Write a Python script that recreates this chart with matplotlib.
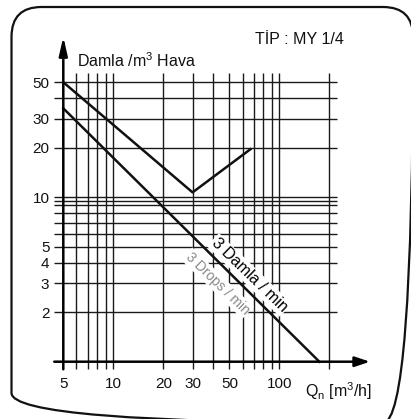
import matplotlib
matplotlib.use("Agg")
import matplotlib.pyplot as plt
from matplotlib.patches import FancyBboxPatch
from matplotlib.ticker import NullLocator, FixedLocator, FixedFormatter

plt.rcParams['font.family'] = ['Liberation Sans', 'DejaVu Sans']
plt.rcParams['mathtext.fontset'] = 'custom'
plt.rcParams['mathtext.rm'] = 'Liberation Sans'
plt.rcParams['mathtext.it'] = 'Liberation Sans:italic'

# data
# upper curve (Damla / m3 Hava)
q_upper = [5, 30, 67]
d_upper = [50, 10.7, 19.6]
# lower line (3 Damla / min)
q_lower = [5, 174]
d_lower = [34.7, 1]

# grid
x_grid = [5, 6, 7, 8, 9, 10, 20, 30, 40, 50, 60, 70, 80, 90, 100, 200]
y_grid = [50, 40, 30, 20, 10, 9.5, 9, 8, 7, 6, 5, 4, 3, 2]
x_ticks = [5, 10, 20, 30, 50, 100]
y_ticks = [2, 3, 4, 5, 10, 20, 30, 50]

fig = plt.figure(figsize=(4.11, 4.19), dpi=100)

# rounded frame, in pixel units
ax0 = fig.add_axes([0, 0, 1, 1], zorder=-1)
ax0.set_xlim(0, 411)
ax0.set_ylim(419, 0)
ax0.axis('off')
ax0.add_patch(FancyBboxPatch((11.5, 7), 401.5, 416,
                             boxstyle="round,pad=0,rounding_size=30",
                             fill=False, lw=1.6, ec='#111111', clip_on=False))

ax = fig.add_axes([63.3/411, 1-361.7/419, (370-63.3)/411, (361.7-36.7)/419])
ax.set_xscale('log')
ax.set_yscale('log')
ax.set_xlim(5, 351)
ax.set_ylim(1, 94.6)
ax.patch.set_visible(False)
for s in ax.spines.values():
    s.set_visible(False)

gc = '#1a1a1a'
ax.vlines(x_grid[1:], 0.899, 56.7, colors=gc, lw=1.0, zorder=1, clip_on=False)
ax.hlines(y_grid, 4.41, 221, colors=gc, lw=1.0, zorder=1, clip_on=False)

# axes with arrows
ax.annotate("", xy=(5, 94.6), xytext=(5, 0.899), xycoords='data',
            arrowprops=dict(arrowstyle="-|>,head_length=1.1,head_width=0.25",
                            lw=1.8, color='k', mutation_scale=10,
                            shrinkA=0, shrinkB=0),
            annotation_clip=False, zorder=4)
ax.annotate("", xy=(351, 1), xytext=(4.41, 1), xycoords='data',
            arrowprops=dict(arrowstyle="-|>,head_length=0.9,head_width=0.3",
                            lw=1.8, color='k', mutation_scale=10,
                            shrinkA=0, shrinkB=0),
            annotation_clip=False, zorder=4)

ax.plot(q_upper, d_upper, color='#111111', lw=1.8, zorder=3, clip_on=False)
ax.plot(q_lower, d_lower, color='#111111', lw=1.8, zorder=3, clip_on=False)

ax.text(66, 3.37, "3 Damla / min", rotation=-44, rotation_mode='anchor',
        ha='center', va='center', fontsize=11.5, color='k', zorder=2,
        bbox=dict(fc='white', ec='none', pad=1))
ax.text(42.3, 3.0, "3 Drops / min", rotation=-44, rotation_mode='anchor',
        ha='center', va='center', fontsize=10, color='#8a8a8a', zorder=2,
        bbox=dict(fc='white', ec='none', pad=1))

ax.xaxis.set_major_locator(FixedLocator(x_ticks))
ax.xaxis.set_major_formatter(FixedFormatter([str(v) for v in x_ticks]))
ax.yaxis.set_major_locator(FixedLocator(y_ticks))
ax.yaxis.set_major_formatter(FixedFormatter([str(v) for v in y_ticks]))
ax.xaxis.set_minor_locator(NullLocator())
ax.yaxis.set_minor_locator(NullLocator())
ax.tick_params(axis='both', length=0, labelsize=11, colors='#111111')
ax.tick_params(axis='y', pad=10)
ax.tick_params(axis='x', pad=11)

fig.text(77.3/411, 1-61/419, r"Damla /m$^{\mathrm{3}}$ Hava", fontsize=11.5,
         ha='left', va='center', color='#111111')
fig.text(255/411, 1-40/419, "TİP : MY 1/4", fontsize=11.5,
         ha='left', va='center', color='#111111')
fig.text(305/411, 1-391/419, r"Q$_{\mathrm{n}}$ [m$^{\mathrm{3}}$/h]", fontsize=11.5,
         ha='left', va='center', color='#111111')

fig.savefig("out.png", dpi=100)
